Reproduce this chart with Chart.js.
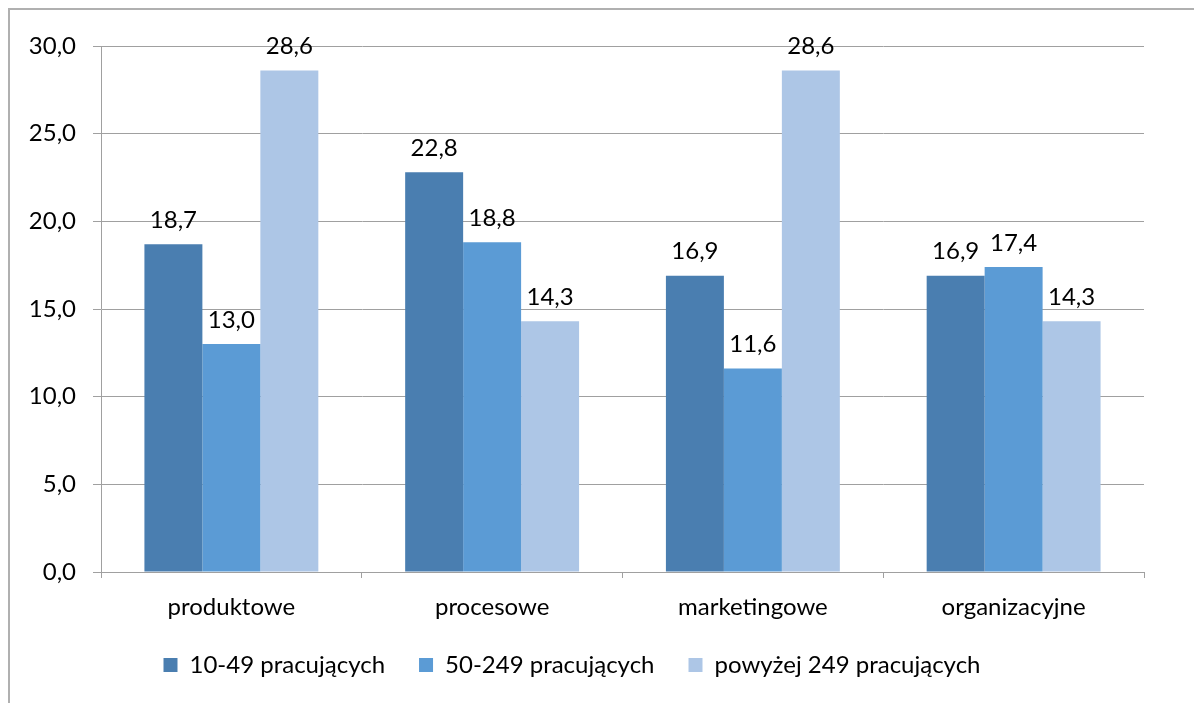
<!DOCTYPE html>
<html>
<head>
<meta charset="utf-8">
<script src="https://cdn.jsdelivr.net/npm/chart.js@4/dist/chart.umd.min.js"></script>
<style>
  html, body { margin: 0; padding: 0; background: #fff; }
  #wrap { position: relative; width: 1194px; height: 703px; overflow: hidden; }
  #frame { position: absolute; left: 8px; top: 8px; width: 1300px; height: 800px;
           border-left: 2px solid #b0b0b0; border-top: 2px solid #b0b0b0; }
  canvas { position: absolute; left: 0; top: 0; }
</style>
</head>
<body>
<div id="wrap">
  <div id="frame"></div>
  <canvas id="chart" width="1194" height="703"></canvas>
</div>
<script>
// --- data ---
const categories = ['produktowe', 'procesowe', 'marketingowe', 'organizacyjne'];
const seriesNames = ['10-49 pracujących', '50-249 pracujących', 'powyżej 249 pracujących'];
const small = [18.7, 22.8, 16.9, 16.9];
const medium = [13.0, 18.8, 11.6, 17.4];
const large = [28.6, 14.3, 28.6, 14.3];

const colors = {
  dark: '#4a7eb0',
  mid: '#5b9bd5',
  light: '#adc6e6',
  grid: '#a0a0a0',
  text: '#000000'
};
const FONT = 'Lato, "Open Sans", sans-serif';

const fmt = v => v.toFixed(1).replace('.', ',');

// draws value labels above each bar
const valueLabels = {
  id: 'valueLabels',
  afterDatasetsDraw(chart) {
    const ctx = chart.ctx;
    ctx.save();
    ctx.font = '24px ' + FONT;
    ctx.fillStyle = colors.text;
    ctx.textAlign = 'center';
    ctx.textBaseline = 'bottom';
    chart.data.datasets.forEach((ds, i) => {
      chart.getDatasetMeta(i).data.forEach((bar, j) => {
        ctx.fillText(fmt(ds.data[j]), bar.x, bar.y - 12);
      });
    });
    ctx.restore();
  }
};

new Chart(document.getElementById('chart'), {
  type: 'bar',
  data: {
    labels: categories,
    datasets: [
      { label: seriesNames[0], data: small, backgroundColor: colors.dark },
      { label: seriesNames[1], data: medium, backgroundColor: colors.mid },
      { label: seriesNames[2], data: large, backgroundColor: colors.light }
    ]
  },
  options: {
    responsive: false,
    animation: false,
    layout: { padding: { left: 0, top: 46, right: 50, bottom: 16 } },
    datasets: { bar: { categoryPercentage: 0.667, barPercentage: 1.0 } },
    scales: {
      x: {
        grid: { offset: true, drawOnChartArea: false, drawTicks: true, tickLength: 6, color: colors.grid },
        border: { color: colors.grid },
        ticks: { color: colors.text, font: { family: FONT, size: 24 }, padding: 15 },
        afterFit(axis) { axis.height = 47; }
      },
      y: {
        min: 0, max: 30,
        ticks: { stepSize: 5, color: colors.text, font: { family: FONT, size: 24 }, padding: 17,
                 callback: v => fmt(v) },
        grid: { color: colors.grid, tickLength: 8 },
        border: { color: colors.grid },
        afterFit(axis) { axis.width = 101; }
      }
    },
    plugins: {
      legend: {
        position: 'bottom',
        labels: { color: colors.text, font: { family: FONT, size: 24 }, boxWidth: 14, boxHeight: 14, padding: 34 }
      },
      tooltip: { enabled: false }
    }
  },
  plugins: [valueLabels]
});
</script>
</body>
</html>
